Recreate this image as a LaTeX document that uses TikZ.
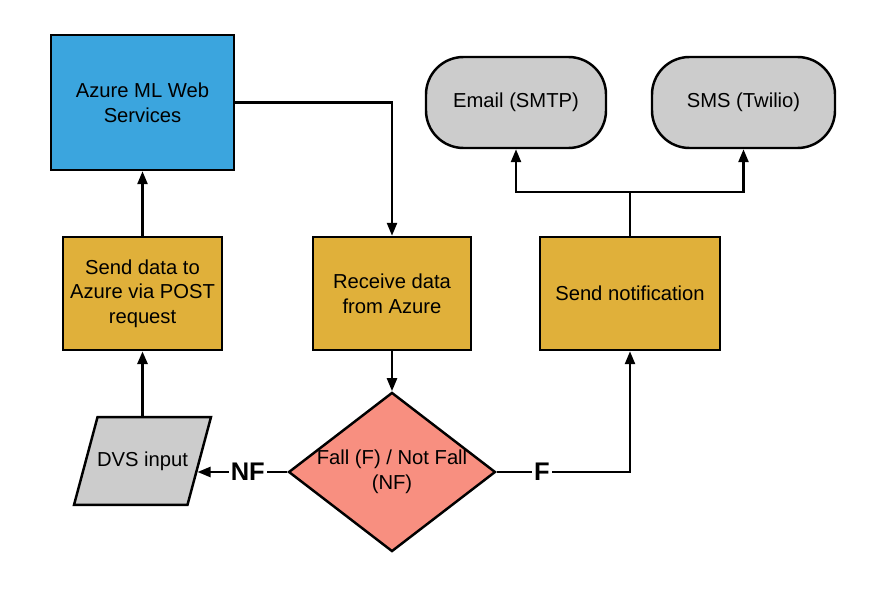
\documentclass[tikz,border=0pt]{standalone}
\usepackage{xcolor}
\usepackage{fontspec}
\setmainfont{Liberation Sans}
\usepackage{tikz}
\usetikzlibrary{shapes.geometric, positioning, arrows.meta, calc}
\definecolor{AzBlue}{RGB}{59,165,222}
\definecolor{StepGold}{RGB}{224,176,58}
\definecolor{DecSalmon}{RGB}{248,143,128}
\definecolor{IOGray}{RGB}{204,204,204}

\tikzset{
  base/.style={draw=black, line width=1.4pt, font=\fontsize{11.5}{14}\selectfont,
               align=center, inner sep=2pt},
  procbox/.style={base, rectangle, fill=StepGold, minimum height=2.26cm},
  outbox/.style={base, rectangle, rounded corners=0.75cm, fill=IOGray,
                 minimum width=3.6cm, minimum height=1.82cm},
  flow/.style={line width=1.4pt, -{Triangle[length=0.26cm, width=0.2cm]}},
  lbl/.style={font=\fontsize{14.5}{16}\selectfont\bfseries, fill=white, inner sep=1pt}
}

\begin{document}
\begin{tikzpicture}
        \useasboundingbox (0,0) rectangle (17.72,11.8);

        % Web service and processing steps
        \node[base, rectangle, fill=AzBlue, minimum width=3.66cm, minimum height=2.7cm]
              (azure) at (2.85,9.75) {Azure ML Web\\Services};
        \node[procbox, minimum width=3.18cm] (send) at (2.85,5.93)
              {Send data to\\Azure via POST\\request};
        \node[procbox, minimum width=3.16cm] (recv) at (7.84,5.93)
              {Receive data\\from Azure};
        \node[procbox, minimum width=3.6cm] (notify) at (12.6,5.93)
              {Send notification};

        % Notification channels
        \node[outbox] (email) at (10.32,9.75) {Email (SMTP)};
        \node[outbox, minimum width=3.66cm] (sms) at (14.87,9.75) {SMS (Twilio)};

        % Input and decision
        \node[base, trapezium, trapezium left angle=75, trapezium right angle=105,
              trapezium stretches body=true, fill=IOGray, inner ysep=0.69cm,
              inner xsep=-2pt, minimum width=2.74cm] (dvs) at (2.85,2.58)
              {DVS input};
        \node[base, diamond, fill=DecSalmon, inner sep=0pt, aspect=1.3,
              minimum width=4.06cm, minimum height=3.12cm] (dec) at (7.84,2.36)
              {Fall (F) / Not Fall\\(NF)};

        % Connectors
        \draw[flow, line width=1.8pt] (dvs.north -| send.south) -- (send.south);
        \draw[flow] (send) -- (azure);
        \draw[flow] (azure.east) -| (recv.north);
        \draw[flow] (recv) -- (dec);
        \draw[flow] (dec.west) -- node[lbl, pos=0.44] {NF} ($(dvs.east |- dec.west)+(-0.06,0)$);
        \draw[flow] (dec.east) -- node[lbl, pos=0.34] {F} (dec.east -| notify.south)
              -- (notify.south);

        \coordinate (split) at ($(notify.north)+(0,0.88)$);
        \draw[line width=1.4pt] (notify.north) -- (split);
        \draw[flow] (split) -| (email.south);
        \draw[flow] (split) -| (sms.south);
\end{tikzpicture}
\end{document}
